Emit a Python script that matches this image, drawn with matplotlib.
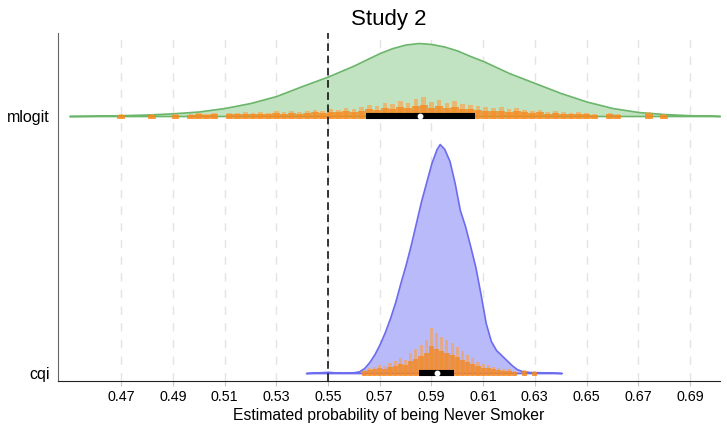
import numpy as np
import matplotlib.pyplot as plt

plt.rcParams['font.family'] = ['Liberation Sans', 'DejaVu Sans']

# categories (y position: cqi at 0, mlogit at 1)
models = ['cqi', 'mlogit']

# density outlines (height in pixels above the baseline)
mlogit_x = [0.450, 0.46, 0.47, 0.48, 0.49, 0.50, 0.51, 0.52, 0.53, 0.54, 0.55,
            0.56, 0.57, 0.575, 0.58, 0.585, 0.59, 0.595, 0.60, 0.605, 0.61,
            0.62, 0.63, 0.64, 0.65, 0.66, 0.67, 0.68, 0.69, 0.70, 0.7016]
mlogit_h = [0, 0.3, 0.8, 1.5, 2.7, 4.5, 8, 13, 20, 30, 39.5,
            50.5, 63, 68, 71.5, 73, 72, 69.5, 65.5, 60, 55,
            43, 33, 23, 14.5, 8, 4, 2, 0.8, 0.2, 0]

cqi_x = [0.5415, 0.545, 0.55, 0.553, 0.556, 0.56, 0.562, 0.564, 0.566, 0.568,
         0.570, 0.572, 0.574, 0.576, 0.578, 0.580, 0.582, 0.584, 0.586, 0.588,
         0.590, 0.592, 0.5932, 0.595, 0.597, 0.599, 0.601, 0.603, 0.605, 0.607,
         0.609, 0.611, 0.613, 0.615, 0.617, 0.619, 0.621, 0.623, 0.625, 0.628,
         0.633, 0.637, 0.6404]
cqi_h = [0, 0.5, 1.2, 0.6, 0.3, 0.8, 1.7, 5, 11, 19,
         29, 41, 55, 71, 90, 108, 128, 150, 172, 191,
         210, 224, 229, 224, 212, 190, 163, 147, 127, 106,
         79, 50, 32, 23, 18, 13, 8, 4, 2, 1,
         0.7, 0.4, 0]

# orange draws, binned (height in pixels)
mlogit_rug_start, mlogit_rug_step = 0.470, 0.003
mlogit_rug = [2, 0, 0, 0, 2, 0, 0, 2, 0, 2, 3, 2, 3, 0, 3, 3, 4, 3, 4, 3,
              5, 4, 5, 4, 5, 6, 5, 7, 6, 8, 7, 9, 11, 10, 13, 12, 15, 13, 17, 19,
              14, 16, 13, 15, 12, 11, 10, 9, 8, 9, 7, 8, 6, 5, 6, 4, 5, 4, 3, 4,
              3, 2, 0, 3, 2, 0, 0, 0, 4, 0, 2, 0]
cqi_rug_start, cqi_rug_step = 0.564, 0.002
cqi_rug = [3, 5, 6, 8, 7, 10, 12, 15, 13, 20, 24, 28, 33, 45, 40, 36, 33, 30,
           26, 22, 18, 15, 11, 9, 8, 6, 5, 4, 4, 2, 0, 3, 0, 2, 0]

# interval bars and medians
box_lo = [0.5852, 0.5647]
box_hi = [0.5988, 0.6069]
medians = [0.5922, 0.5856]

ticks = np.round(np.arange(0.47, 0.6901, 0.02), 2)

px = 1 / 257.0  # one pixel in y data units

fig = plt.figure(figsize=(7.27, 4.29), dpi=100)
ax = fig.add_axes([58 / 727, 48 / 429, 662 / 727, 348 / 429])

ax.fill_between(mlogit_x, 1, 1 + np.array(mlogit_h) * px, color='#c2e3c2',
                edgecolor='#6cb66c', linewidth=1.2, zorder=2)
ax.fill_between(cqi_x, 0, np.array(cqi_h) * px, color='#b9bafa',
                edgecolor='#6c6cf0', linewidth=1.2, zorder=2)

for base, start, step, hs in [(1, mlogit_rug_start, mlogit_rug_step, mlogit_rug),
                              (0, cqi_rug_start, cqi_rug_step, cqi_rug)]:
    hs = np.array(hs, dtype=float)
    xs = start + step * np.arange(len(hs))
    keep = hs > 0
    # light outer fringe
    ax.bar(xs[keep], (hs[keep] + 3) * px, width=step * 0.6,
           bottom=base - 3 * px, color='#ffa040', alpha=0.6,
           linewidth=0, zorder=3)
    # denser core
    ax.bar(xs[keep], (hs[keep] * 0.6 + 3) * px, width=step,
           bottom=base - 3 * px, color='#f7861a', alpha=0.75,
           linewidth=0, zorder=3)

ax.axvline(0.55, color='black', linewidth=1.1, linestyle=(0, (5, 3)), zorder=3)

for i in range(2):
    ax.plot([box_lo[i], box_hi[i]], [i, i], color='black', linewidth=4.4,
            solid_capstyle='butt', zorder=4)
    ax.plot(medians[i], i, 'o', color='white', markersize=3.2, zorder=5)

ax.set_xlim(0.4456, 0.7016)
ax.set_ylim(-0.031, 1.323)
ax.set_xticks(ticks)
ax.set_xticklabels(['%.2f' % t for t in ticks])
ax.set_yticks([0, 1])
ax.set_yticklabels(models, fontsize=11.5)
ax.tick_params(axis='y', length=0, pad=6)
ax.tick_params(axis='x', length=3.6, width=0.8, color='#c8c8c8',
               labelsize=10.3, pad=3)

ax.grid(axis='x', color='#e4e4e4', linestyle=(0, (6, 6)), linewidth=1)
ax.set_axisbelow(True)
for s in ['top', 'right']:
    ax.spines[s].set_visible(False)
ax.spines['left'].set_color('#666666')
ax.spines['bottom'].set_color('#222222')

ax.set_title('Study 2', fontsize=16, pad=6)
ax.set_xlabel('Estimated probability of being Never Smoker', fontsize=11.3, labelpad=3)

fig.savefig('out.png', dpi=100)
